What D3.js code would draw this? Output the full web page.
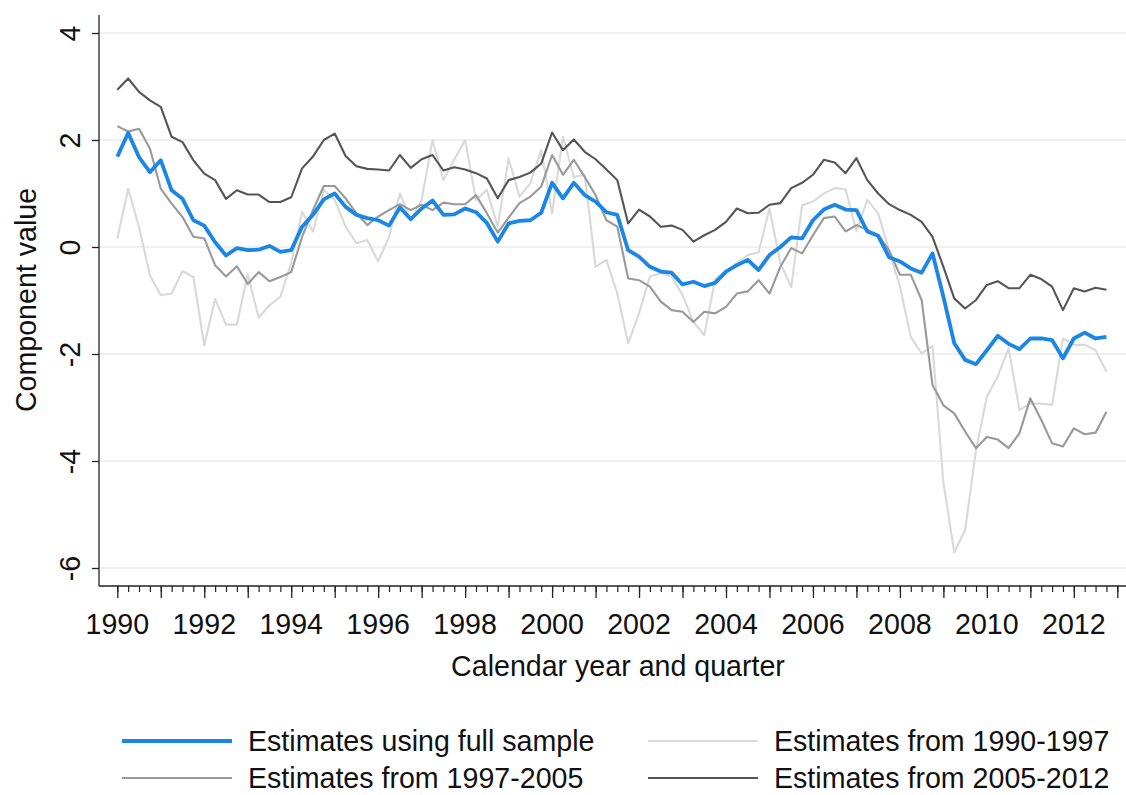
<!DOCTYPE html>
<html><head><meta charset="utf-8">
<script src="https://cdn.jsdelivr.net/npm/d3@7"></script>
<style>
body{margin:0;background:#fff}
svg text{font-family:"Liberation Sans",Arial,sans-serif;fill:#111}
</style>
</head><body>
<svg id="chart" width="1126" height="795"></svg>
<script>
// ---- data (quarterly, 1990q1 - 2012q4) ----
const startYear = 1990;
const endYear = 2013;
const xTickYears = [1990,1992,1994,1996,1998,2000,2002,2004,2006,2008,2010,2012];
const yTicks = [-6,-4,-2,0,2,4];
const seriesNames = ["Estimates using full sample","Estimates from 1990-1997","Estimates from 1997-2005","Estimates from 2005-2012"];

const fullSample = [1.69,2.13,1.68,1.40,1.62,1.06,0.90,0.50,0.40,0.09,-0.16,-0.02,-0.06,-0.05,0.02,-0.09,
 -0.06,0.38,0.60,0.89,1.00,0.75,0.60,0.54,0.50,0.40,0.74,0.52,0.72,0.87,0.60,0.61,
 0.72,0.65,0.45,0.10,0.44,0.49,0.50,0.64,1.20,0.91,1.20,0.97,0.85,0.65,0.60,-0.06,
 -0.18,-0.37,-0.46,-0.48,-0.70,-0.65,-0.73,-0.67,-0.46,-0.34,-0.24,-0.43,-0.15,0.00,0.18,0.16,
 0.50,0.70,0.79,0.70,0.69,0.29,0.21,-0.19,-0.27,-0.40,-0.48,-0.12,-0.93,-1.80,-2.11,-2.19,
 -1.93,-1.66,-1.81,-1.91,-1.71,-1.71,-1.74,-2.08,-1.71,-1.60,-1.71,-1.68];

const est1990_1997 = [0.16,1.09,0.37,-0.53,-0.90,-0.87,-0.45,-0.56,-1.84,-0.97,-1.45,-1.45,-0.51,-1.32,-1.09,-0.93,
 -0.30,0.66,0.29,1.07,0.88,0.38,0.07,0.13,-0.27,0.19,1.00,0.50,0.88,2.00,1.25,1.63,
 2.00,0.88,1.07,0.38,1.66,0.94,1.19,1.81,0.63,2.06,1.31,1.35,-0.37,-0.24,-0.87,-1.80,
 -1.24,-0.55,-0.49,-0.55,-0.90,-1.40,-1.65,-0.60,-0.45,-0.30,-0.15,-0.10,0.72,-0.30,-0.75,0.78,
 0.85,1.00,1.10,1.08,0.30,0.88,0.63,-0.06,-0.74,-1.68,-1.99,-1.85,-4.40,-5.71,-5.29,-3.80,
 -2.80,-2.42,-1.89,-3.05,-2.92,-2.93,-2.95,-1.71,-1.83,-1.83,-1.93,-2.33];

const est1997_2005 = [2.26,2.16,2.21,1.84,1.09,0.81,0.56,0.19,0.16,-0.34,-0.55,-0.36,-0.69,-0.47,-0.64,-0.56,
 -0.47,0.19,0.69,1.14,1.14,0.91,0.63,0.41,0.57,0.69,0.80,0.69,0.79,0.69,0.83,0.80,
 0.80,0.97,0.63,0.27,0.55,0.82,0.94,1.13,1.72,1.35,1.63,1.31,0.97,0.50,0.38,-0.59,
 -0.62,-0.74,-1.02,-1.18,-1.21,-1.40,-1.21,-1.24,-1.12,-0.87,-0.83,-0.62,-0.87,-0.37,-0.02,-0.12,
 0.22,0.54,0.57,0.29,0.41,0.32,0.22,-0.06,-0.52,-0.52,-0.99,-2.58,-2.96,-3.11,-3.45,-3.76,
 -3.55,-3.60,-3.76,-3.48,-2.83,-3.23,-3.67,-3.73,-3.39,-3.50,-3.47,-3.08];

const est2005_2012 = [2.94,3.15,2.90,2.74,2.62,2.06,1.96,1.62,1.37,1.25,0.90,1.06,0.98,0.98,0.84,0.84,
 0.93,1.47,1.69,2.00,2.12,1.70,1.51,1.46,1.45,1.43,1.72,1.48,1.64,1.72,1.43,1.49,
 1.45,1.38,1.28,0.91,1.25,1.31,1.39,1.56,2.14,1.81,2.01,1.78,1.64,1.45,1.25,0.44,
 0.70,0.57,0.38,0.40,0.32,0.10,0.22,0.32,0.47,0.72,0.63,0.64,0.79,0.82,1.10,1.20,
 1.35,1.63,1.58,1.38,1.66,1.25,1.00,0.80,0.69,0.60,0.47,0.19,-0.37,-0.96,-1.15,-0.99,
 -0.71,-0.64,-0.77,-0.77,-0.52,-0.60,-0.74,-1.18,-0.77,-0.83,-0.76,-0.80];

// ---- layout ----
const W = 1126, H = 795;
const axisX = 99, axisY = 586;
const FS = "28.6px";
const svg = d3.select("#chart");

const x = d3.scaleLinear().domain([startYear, endYear]).range([117.3, 1117.3]);
const y = d3.scaleLinear().domain([-6, 4]).range([568, 33]);
const period = i => startYear + i / 4;

// gridlines
svg.append("g").selectAll("line").data(yTicks).join("line")
  .attr("x1", axisX).attr("x2", W)
  .attr("y1", d => y(d)).attr("y2", d => y(d))
  .attr("stroke", "#ebebeb").attr("stroke-width", 1.6);

// y axis
const yAxis = svg.append("g").attr("transform", `translate(${axisX},0)`)
  .call(d3.axisLeft(y).tickValues(yTicks).tickSize(7).tickFormat(d => d));
yAxis.select(".domain").remove();
yAxis.selectAll(".tick line").attr("stroke", "#222").attr("stroke-width", 1.3);
yAxis.selectAll(".tick text")
  .attr("x", null).attr("dy", null).attr("y", -19)
  .attr("transform", "rotate(-90)")
  .attr("text-anchor", "middle")
  .style("font-size", FS).style("font-family", '"Liberation Sans",Arial,sans-serif').attr("fill", "#111");
svg.append("line").attr("x1", axisX).attr("x2", axisX).attr("y1", 15).attr("y2", axisY)
  .attr("stroke", "#222").attr("stroke-width", 1.3);

// x axis
const quarterTicks = d3.range(startYear, endYear + 0.001, 0.25);
const yearTicks = d3.range(startYear, endYear + 1);
const xMinor = svg.append("g").attr("transform", `translate(0,${axisY})`)
  .call(d3.axisBottom(x).tickValues(quarterTicks).tickSize(6).tickFormat(""));
xMinor.select(".domain").remove();
xMinor.selectAll(".tick line").attr("stroke", "#222").attr("stroke-width", 1.2);
const xMajor = svg.append("g").attr("transform", `translate(0,${axisY})`)
  .call(d3.axisBottom(x).tickValues(yearTicks).tickSize(12).tickFormat(""));
xMajor.select(".domain").remove();
xMajor.selectAll(".tick line").attr("stroke", "#222").attr("stroke-width", 1.3);
svg.append("g").selectAll("text").data(xTickYears).join("text")
  .attr("x", d => x(d)).attr("y", 634)
  .attr("text-anchor", "middle").style("font-size", FS).text(d => d);
svg.append("line").attr("x1", axisX).attr("x2", W).attr("y1", axisY).attr("y2", axisY)
  .attr("stroke", "#222").attr("stroke-width", 1.3);

// axis titles
svg.append("text").attr("x", 618).attr("y", 676).attr("text-anchor", "middle")
  .style("font-size", FS).text("Calendar year and quarter");
svg.append("text").attr("transform", "translate(36,300) rotate(-90)").attr("text-anchor", "middle")
  .style("font-size", FS).text("Component value");

// lines
const styles = [
  {data: est1990_1997, color: "#d9d9d9", width: 2.1},
  {data: est1997_2005, color: "#999999", width: 2.1},
  {data: est2005_2012, color: "#555555", width: 2.1},
  {data: fullSample, color: "#1a86e6", width: 3.8}
];
const line = d3.line().x((d, i) => x(period(i))).y(d => y(d));
svg.append("g").selectAll("path").data(styles).join("path")
  .attr("d", s => line(s.data))
  .attr("fill", "none").attr("stroke", s => s.color).attr("stroke-width", s => s.width)
  .attr("stroke-linejoin", "round");

// legend
const legendItems = [
  {name: seriesNames[0], color: "#1a86e6", width: 3.8, lx: 122, ly: 741},
  {name: seriesNames[1], color: "#d9d9d9", width: 2.1, lx: 648, ly: 741},
  {name: seriesNames[2], color: "#999999", width: 2.1, lx: 122, ly: 778},
  {name: seriesNames[3], color: "#555555", width: 2.1, lx: 648, ly: 778}
];
const lg = svg.append("g").selectAll("g").data(legendItems).join("g");
lg.append("line").attr("x1", d => d.lx).attr("x2", d => d.lx + 110)
  .attr("y1", d => d.ly).attr("y2", d => d.ly)
  .attr("stroke", d => d.color).attr("stroke-width", d => d.width);
lg.append("text").attr("x", d => d.lx + 126).attr("y", d => d.ly + 10)
  .style("font-size", FS).text(d => d.name);
</script>
</body></html>
